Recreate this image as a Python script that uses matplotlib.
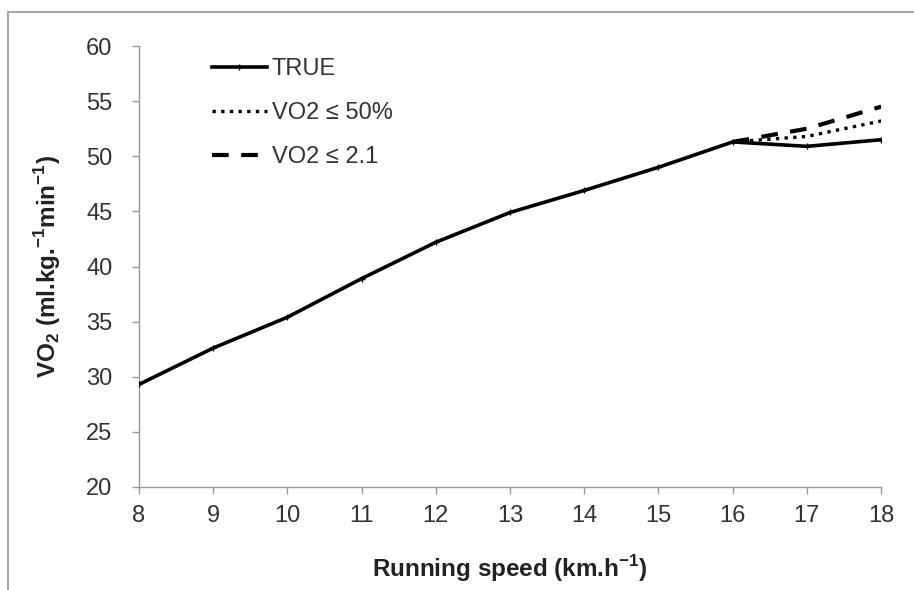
import numpy as np
import matplotlib.pyplot as plt
from matplotlib.patches import Rectangle

plt.rcParams['font.family'] = ['Liberation Sans', 'DejaVu Sans']
plt.rcParams['mathtext.fontset'] = 'custom'
plt.rcParams['mathtext.rm'] = 'Liberation Sans'
plt.rcParams['mathtext.bf'] = 'Liberation Sans:bold'

# datos
speed = [8, 9, 10, 11, 12, 13, 14, 15, 16, 17, 18]
vo2_true = [29.3, 32.6, 35.4, 38.9, 42.2, 44.9, 46.9, 49.0, 51.3, 50.9, 51.5]
speed_tail = [16, 17, 18]
vo2_50 = [51.3, 51.8, 53.2]
vo2_21 = [51.3, 52.5, 54.5]

fig = plt.figure(figsize=(9.14, 5.9), dpi=100)
ax = fig.add_axes([0.152, 0.1746, 0.812, 0.7474])

# marco gris de la imagen
fig.add_artist(Rectangle((8 / 914, -0.1), 1.2, 1 - 12 / 590 + 0.1,
                         transform=fig.transFigure, fill=False,
                         edgecolor='#a8a8a8', linewidth=1.5, clip_on=False))

ax.plot(speed, vo2_true, color='black', lw=2.6, marker='+', ms=4, mew=1,
        label='TRUE', zorder=3)
ax.plot(speed_tail, vo2_50, color='black', lw=2.4, linestyle=(0, (1, 1.6)),
        label='VO2 ≤ 50%', zorder=2)
ax.plot(speed_tail, vo2_21, color='black', lw=3, linestyle=(0, (4, 3)),
        label='VO2 ≤ 2.1', zorder=2)

ax.set_xlim(8, 18)
ax.set_ylim(20, 60)
ax.set_xticks(np.arange(8, 19, 1))
ax.set_yticks(np.arange(20, 61, 5))

for s in ['top', 'right']:
    ax.spines[s].set_visible(False)
for s in ['left', 'bottom']:
    ax.spines[s].set_color('#999999')
    ax.spines[s].set_linewidth(1)
ax.tick_params(direction='out', length=5, width=1, color='#999999',
               labelsize=17, labelcolor='#333333')
ax.tick_params(axis='y', pad=14)
ax.tick_params(axis='x', pad=8)

ax.set_xlabel('Running speed (km.h$^{\\mathbf{-1}}$)', fontsize=17.5,
              fontweight='bold', labelpad=19, color='#222222')
ax.set_ylabel('VO$_{\\mathbf{2}}$ (ml.kg.$^{\\mathbf{-1}}$min$^{\\mathbf{-1}}$)',
              fontsize=17.5, fontweight='bold', labelpad=17, color='#222222')

leg = ax.legend(loc='upper left', bbox_to_anchor=(0.098, 0.972), frameon=False,
                fontsize=17, handlelength=2.35, handletextpad=0.2,
                labelspacing=0.92, borderpad=0, borderaxespad=0)
for t in leg.get_texts():
    t.set_color('#333333')

fig.savefig('out.png', dpi=100)
